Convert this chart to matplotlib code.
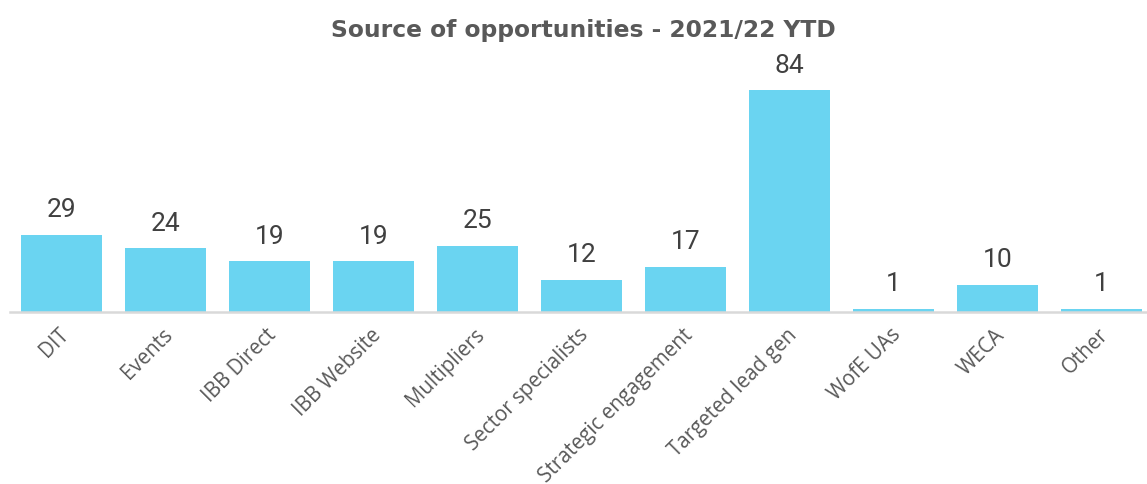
import matplotlib
matplotlib.use("Agg")
import matplotlib.pyplot as plt
from matplotlib.transforms import ScaledTranslation

categories = ["DIT", "Events", "IBB Direct", "IBB Website", "Multipliers",
              "Sector specialists", "Strategic engagement", "Targeted lead gen",
              "WofE UAs", "WECA", "Other"]
values = [29, 24, 19, 19, 25, 12, 17, 84, 1, 10, 1]
title = "Source of opportunities - 2021/22 YTD"

plt.rcParams['font.family'] = ['DejaVu Sans']

fig = plt.figure(figsize=(11.47, 4.85), dpi=100)
ax = fig.add_axes([9.5 / 1147, 172.5 / 485, 1144 / 1147, 237 / 485])

x = list(range(len(categories)))
ax.bar(x, values, width=0.78, color="#6AD4F1", zorder=2)
ax.set_xlim(-0.5, len(categories) - 0.5)
ax.set_ylim(0, 90)

for xi, v in zip(x, values):
    ax.annotate(str(v), (xi, v), xytext=(0, 13.5), textcoords="offset points",
                ha="center", va="baseline", fontsize=19, color="#404040",
                family=["Roboto", "DejaVu Sans"])

ax.set_xticks(x)
ax.set_xticklabels(categories, rotation=45, ha="right", va="center",
                   rotation_mode="anchor", fontsize=14.8, color="#595959",
                   family=["Open Sans", "DejaVu Sans"])
ax.tick_params(axis="x", length=0, pad=14)
shift = ScaledTranslation(4 / 100, 0, fig.dpi_scale_trans)
for lab in ax.get_xticklabels():
    lab.set_transform(lab.get_transform() + shift)
ax.set_yticks([])
for s in ["top", "right", "left"]:
    ax.spines[s].set_visible(False)
ax.spines["bottom"].set_color("#D9D9D9")
ax.spines["bottom"].set_linewidth(1.8)

fig.text(583 / 1147, 1 - 30 / 485, title, ha="center", va="center",
         fontsize=16.8, fontweight="bold", color="#595959")

fig.savefig("out.png", dpi=100)
